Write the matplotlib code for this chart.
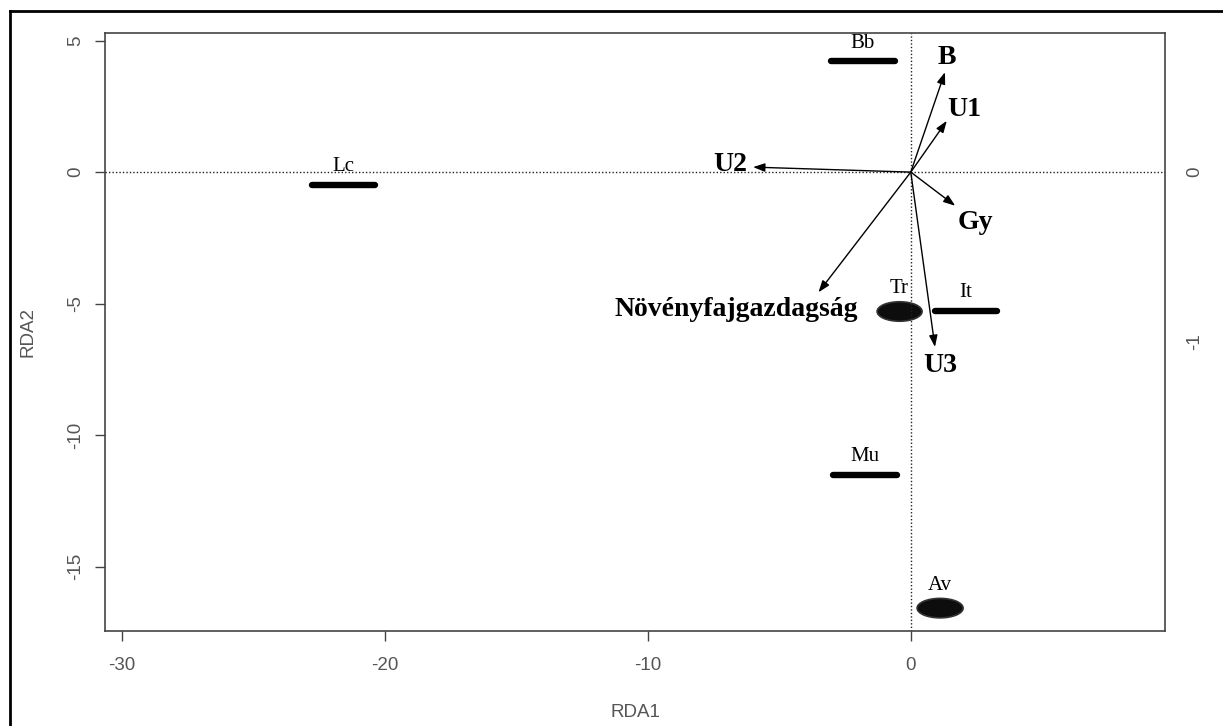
import numpy as np
import matplotlib
matplotlib.use("Agg")
import matplotlib.pyplot as plt
from matplotlib.patches import Ellipse
from matplotlib.lines import Line2D

# ── Data ──────────────────────────────────────────────────────────────────────
species = ["Lc", "Bb", "It", "Tr", "Mu", "Av"]
sp_x0 = [-22.77, -3.04, 0.92, -1.28, -2.96, 0.24]
sp_x1 = [-20.38, -0.60, 3.28, 0.43, -0.52, 1.99]
sp_y = [-0.49, 4.21, -5.27, -5.30, -11.52, -16.58]
sp_blob = [False, False, False, True, False, True]

env = ["B", "U1", "U2", "Gy", "U3", "Növényfajgazdagság"]
env_x = [1.30, 1.37, -6.00, 1.69, 0.92, -3.51]
env_y = [3.80, 1.95, 0.19, -1.28, -6.65, -4.57]
env_lab_x = [1.37, 2.03, -6.87, 2.47, 1.14, -6.62]
env_lab_y = [4.11, 2.14, 0.05, -2.17, -7.62, -5.47]

xticks = [-30, -20, -10, 0]
yticks = [5, 0, -5, -10, -15]
rticks = [0, -1]
right_scale = 6.46

W, H = 1223, 726
fig = plt.figure(figsize=(W / 100, H / 100), dpi=100)
ax = fig.add_axes([105 / W, 1 - 631 / H, 1060 / W, 598 / H])

GREY = "#555555"
SERIF = "Liberation Serif"
SANS = "Liberation Sans"

ax.set_xlim(-30.65, 9.67)
ax.set_ylim(-17.45, 5.29)
ax.axhline(0, color="#222222", ls=(0, (1, 1.5)), lw=1)
ax.axvline(0, color="#222222", ls=(0, (1, 1.5)), lw=1)

# species scores (dense point clouds drawn as strokes)
for name, x0, x1, y, blob in zip(species, sp_x0, sp_x1, sp_y, sp_blob):
    if blob:
        ax.add_patch(Ellipse(((x0 + x1) / 2, y), x1 - x0, 0.74,
                             facecolor="#0d0d0d", edgecolor="#333333", lw=1.2))
        off = 13
    else:
        ax.plot([x0, x1], [y, y], color="black", lw=4.6, solid_capstyle="round")
        off = 10
    ax.annotate(name, ((x0 + x1) / 2, y), xytext=(0, off), textcoords="offset points",
                ha="center", va="baseline", fontsize=15, family=SERIF)

# environmental arrows
for name, x, y, lx, ly in zip(env, env_x, env_y, env_lab_x, env_lab_y):
    ax.annotate("", xy=(x, y), xytext=(0, 0),
                arrowprops=dict(arrowstyle="-|>,head_length=0.5,head_width=0.18",
                                color="black", lw=1, mutation_scale=14,
                                shrinkA=0, shrinkB=0))
    ax.text(lx, ly, name, ha="center", va="baseline", fontsize=20,
            fontweight="bold", family=SERIF)

ax.set_xticks(xticks)
ax.set_yticks(yticks)
ax.set_xticklabels([str(t) for t in xticks])
ax.set_yticklabels([str(t) for t in yticks], rotation=90, va="center")
ax.tick_params(length=7, width=1, color="#444444", labelcolor=GREY,
               labelsize=13.5, pad=8)
ax.tick_params(axis="x", pad=12)
for lab in ax.get_xticklabels() + ax.get_yticklabels():
    lab.set_family(SANS)
for sp in ax.spines.values():
    sp.set_color("#444444")
    sp.set_linewidth(1.2)

ax.set_xlabel("RDA1", fontsize=13.5, color=GREY, family=SANS, labelpad=21)
ax.set_ylabel("RDA2", fontsize=13.5, color=GREY, family=SANS, labelpad=22)

# right-hand scale for the biplot arrows
ax2 = ax.twinx()
ax2.set_ylim(ax.get_ylim()[0] / right_scale, ax.get_ylim()[1] / right_scale)
ax2.set_yticks(rticks)
ax2.set_yticklabels([str(t) for t in rticks], rotation=90, va="center",
                    family=SANS)
ax2.tick_params(length=0, labelcolor=GREY, labelsize=13.5, pad=15)
for sp in ax2.spines.values():
    sp.set_visible(False)

# outer frame
fig.add_artist(Line2D([10 / W, 10 / W], [0, 1 - 11 / H], color="black", lw=2))
fig.add_artist(Line2D([10 / W, 1], [1 - 11 / H, 1 - 11 / H], color="black", lw=2))

fig.savefig("out.png", dpi=100)
